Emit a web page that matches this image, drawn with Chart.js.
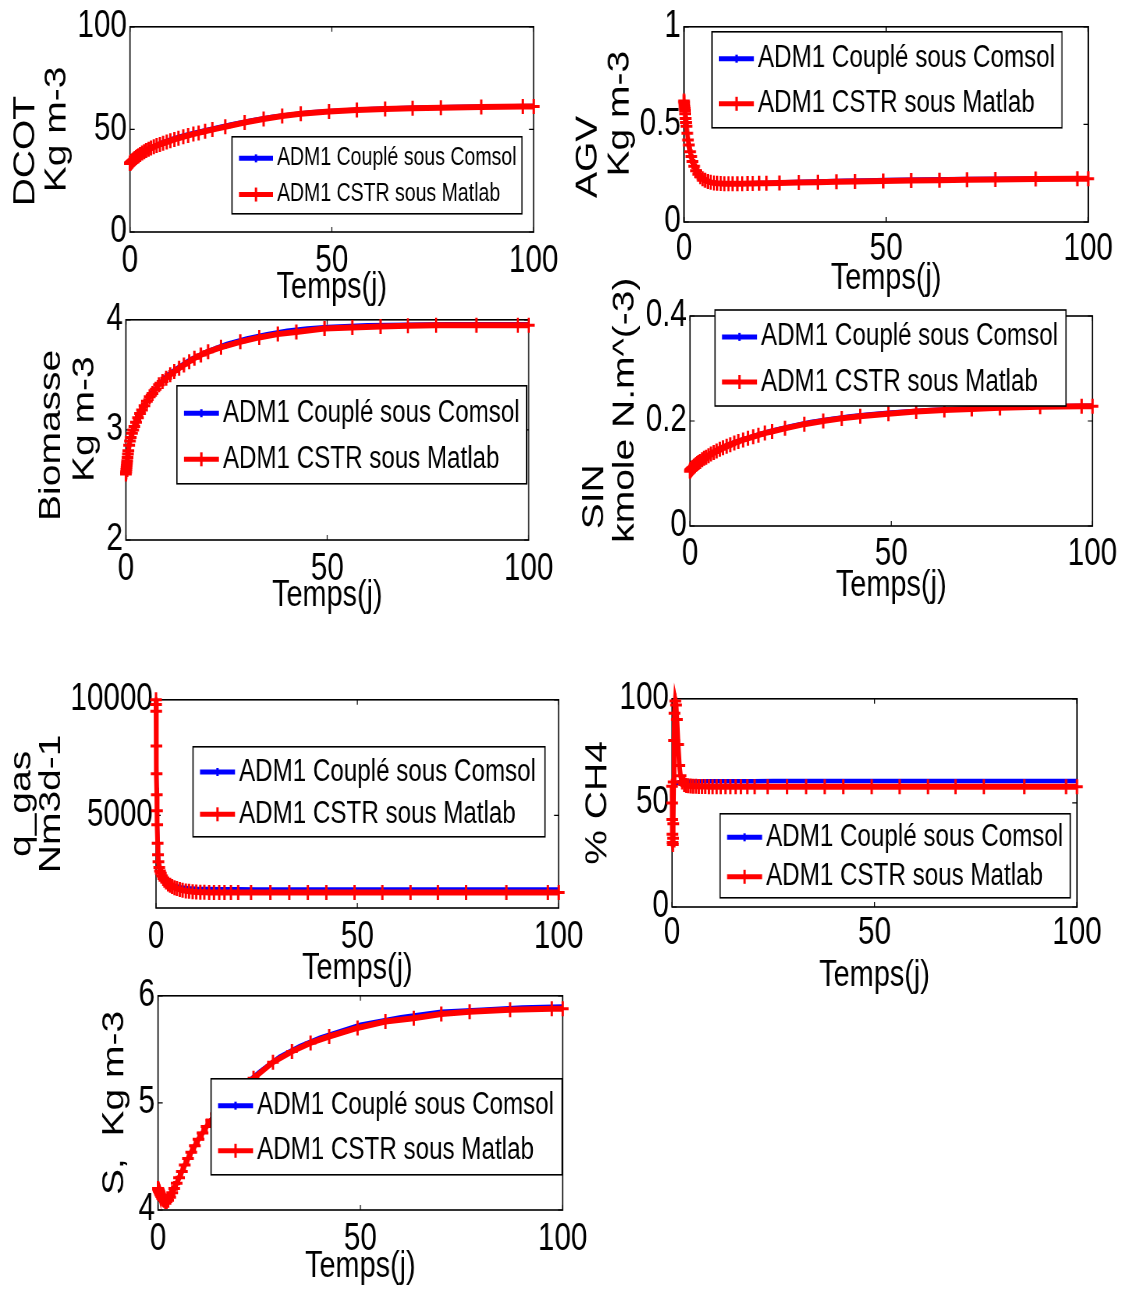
<!DOCTYPE html>
<html>
<head>
<meta charset="utf-8">
<script src="https://cdn.jsdelivr.net/npm/chart.js@4.4.1/dist/chart.umd.min.js"></script>
<style>
  body { margin: 0; background: #fff; width: 1125px; height: 1290px; position: relative; overflow: hidden; }
  canvas { position: absolute; }
</style>
</head>
<body>
<canvas id="c1"></canvas>
<canvas id="c2"></canvas>
<canvas id="c3"></canvas>
<canvas id="c4"></canvas>
<canvas id="c5"></canvas>
<canvas id="c6"></canvas>
<canvas id="c7"></canvas>
<script>
// solver time steps of the Matlab run (red) and of the Comsol run (blue), days
const tMatlab = [0, 0.02, 0.05, 0.1, 0.15, 0.2, 0.25, 0.3, 0.4, 0.5,
  0.6, 0.8, 1, 1.2, 1.5, 1.8, 2.1, 2.5, 3, 3.5,
  4, 4.6, 5.2, 5.9, 6.6, 7.4, 8.2, 9.1, 10, 11,
  12, 13.2, 14.4, 15.7, 17, 18.6, 20.4, 23.6, 28.4, 33.1,
  37.7, 42.3, 49.3, 56.2, 63.2, 70, 77, 87, 97.3, 100];
const tComsol = [0, 0.1, 0.2, 0.3, 0.5, 0.7, 1, 1.5, 2, 3, 4, 6, 8, 10, 13, 16, 20, 25, 30, 35, 40, 45, 50, 60, 70, 80, 90, 100];

const timeTicks = [0, 50, 100];

// DCOT, Kg m-3
const dcotMatlab = [33.4, 33.5, 33.6, 33.7, 33.8, 33.9, 34.0, 34.1, 34.3, 34.5,
  34.7, 35.1, 35.4, 35.8, 36.3, 36.8, 37.2, 37.8, 38.5, 39.1,
  39.7, 40.3, 40.9, 41.5, 42.1, 42.7, 43.3, 43.9, 44.5, 45.1,
  45.7, 46.4, 47.0, 47.7, 48.3, 49.1, 49.9, 51.3, 53.4, 55.1,
  56.5, 57.6, 58.7, 59.4, 59.9, 60.3, 60.6, 60.9, 61.1, 61.1];
const dcotComsol = [33.4, 33.6, 33.8, 34.0, 34.4, 34.8, 35.4, 36.3, 37.2, 38.6, 39.9, 42.0, 43.7, 45.1,
  46.9, 48.4, 50.2, 52.4, 54.4, 56.0, 57.3, 58.3, 59.0, 59.9, 60.5, 60.9, 61.2, 61.4];
const dcotTicks = [0, 50, 100];

// AGV, Kg m-3
const agvMatlab = [0.62, 0.615, 0.61, 0.6, 0.59, 0.58, 0.57, 0.555, 0.53, 0.51,
  0.49, 0.455, 0.42, 0.395, 0.36, 0.335, 0.31, 0.285, 0.262, 0.245,
  0.232, 0.222, 0.214, 0.208, 0.203, 0.2, 0.198, 0.197, 0.196, 0.196,
  0.196, 0.196, 0.196, 0.197, 0.197, 0.198, 0.199, 0.2, 0.202, 0.204,
  0.206, 0.208, 0.21, 0.212, 0.214, 0.216, 0.218, 0.22, 0.222, 0.222];
const agvComsol = [0.61, 0.6, 0.58, 0.56, 0.515, 0.475, 0.425, 0.365, 0.32, 0.265, 0.235, 0.208, 0.2, 0.198,
  0.198, 0.199, 0.2, 0.203, 0.206, 0.209, 0.211, 0.213, 0.215, 0.218, 0.22, 0.222, 0.223, 0.224];
const agvTicks = [0, 0.5, 1];

// Biomasse, Kg m-3
const bioMatlab = [2.6, 2.61, 2.62, 2.64, 2.66, 2.68, 2.7, 2.72, 2.75, 2.78,
  2.81, 2.86, 2.9, 2.93, 2.97, 3.0, 3.03, 3.07, 3.11, 3.15,
  3.18, 3.22, 3.26, 3.3, 3.33, 3.37, 3.41, 3.44, 3.47, 3.5,
  3.53, 3.56, 3.59, 3.62, 3.65, 3.68, 3.71, 3.75, 3.8, 3.84,
  3.87, 3.89, 3.92, 3.93, 3.94, 3.945, 3.95, 3.95, 3.95, 3.95];
const bioComsol = [2.6, 2.64, 2.68, 2.72, 2.78, 2.84, 2.91, 2.98, 3.03, 3.12, 3.2, 3.32, 3.41, 3.49,
  3.57, 3.64, 3.71, 3.78, 3.83, 3.87, 3.9, 3.92, 3.935, 3.95, 3.955, 3.96, 3.96, 3.96];
const bioTicks = [2, 3, 4];

// SIN, kmole N.m^(-3)
const sinMatlab = [0.105, 0.105, 0.106, 0.106, 0.107, 0.107, 0.108, 0.108, 0.109, 0.11,
  0.111, 0.112, 0.114, 0.115, 0.117, 0.119, 0.121, 0.123, 0.126, 0.129,
  0.131, 0.134, 0.137, 0.14, 0.143, 0.146, 0.149, 0.152, 0.155, 0.158,
  0.161, 0.164, 0.167, 0.17, 0.173, 0.177, 0.18, 0.186, 0.194, 0.2,
  0.205, 0.209, 0.214, 0.218, 0.221, 0.223, 0.225, 0.227, 0.228, 0.228];
const sinComsol = [0.105, 0.106, 0.107, 0.108, 0.11, 0.112, 0.115, 0.118, 0.121, 0.127, 0.133, 0.142, 0.15, 0.157,
  0.165, 0.172, 0.181, 0.19, 0.198, 0.204, 0.209, 0.213, 0.216, 0.221, 0.224, 0.226, 0.228, 0.229];
const sinTicks = [0, 0.2, 0.4];

// q_gas, Nm3 d-1
const qgasMatlab = [10000, 9800, 9500, 8000, 6800, 5900, 5200, 4600, 3800, 3300,
  3000, 2750, 2600, 2500, 2380, 2280, 2200, 2120, 2040, 1980,
  1930, 1880, 1840, 1800, 1770, 1740, 1720, 1700, 1690, 1685,
  1680, 1675, 1672, 1670, 1670, 1670, 1670, 1670, 1670, 1670,
  1670, 1670, 1670, 1670, 1670, 1670, 1670, 1670, 1670, 1670];
const qgasComsol = [9800, 8000, 6200, 5000, 3600, 3000, 2700, 2450, 2300, 2100, 2000, 1900, 1850, 1830,
  1820, 1815, 1810, 1805, 1800, 1800, 1800, 1800, 1800, 1800, 1800, 1800, 1800, 1800];
const qgasTicks = [5000, 10000];

// % CH4
const ch4Matlab = [58, 50, 42, 35, 31, 30, 33, 40, 60, 80,
  93, 99, 97, 90, 78, 68, 63, 60, 58.8, 58.4,
  58.2, 58.1, 58, 58, 57.9, 57.9, 57.9, 57.8, 57.8, 57.8,
  57.8, 57.8, 57.8, 57.8, 57.8, 57.8, 57.8, 57.8, 57.8, 57.8,
  57.8, 57.8, 57.8, 57.8, 57.8, 57.8, 57.8, 57.8, 57.8, 57.8];
const ch4Comsol = [55, 52, 53, 55, 57.5, 58.5, 59.3, 59.8, 60, 60.2, 60.3, 60.3, 60.4, 60.4,
  60.4, 60.4, 60.4, 60.5, 60.5, 60.5, 60.5, 60.5, 60.5, 60.5, 60.5, 60.5, 60.5, 60.5];
const ch4Ticks = [0, 50, 100];

// S, Kg m-3
const sMatlab = [4.2, 4.198, 4.195, 4.19, 4.185, 4.18, 4.175, 4.17, 4.16, 4.15,
  4.14, 4.125, 4.11, 4.1, 4.09, 4.08, 4.08, 4.09, 4.12, 4.16,
  4.2, 4.25, 4.3, 4.36, 4.42, 4.48, 4.54, 4.6, 4.66, 4.72,
  4.78, 4.84, 4.9, 4.96, 5.01, 5.07, 5.13, 5.23, 5.38, 5.48,
  5.56, 5.62, 5.7, 5.76, 5.79, 5.83, 5.85, 5.87, 5.88, 5.88];
const sComsol = [4.2, 4.19, 4.18, 4.17, 4.15, 4.13, 4.11, 4.09, 4.08, 4.12, 4.2, 4.37, 4.53, 4.67,
  4.84, 4.98, 5.13, 5.29, 5.43, 5.53, 5.61, 5.67, 5.73, 5.8, 5.85, 5.87, 5.89, 5.9];
const sTicks = [4, 5, 6];

const LABEL_COMSOL = "ADM1 Couplé sous Comsol";
const LABEL_MATLAB = "ADM1 CSTR sous Matlab";

const SANS = "'Liberation Sans', Arial, sans-serif";
// the figure is squeezed horizontally: canvases are drawn wider and shrunk by css
const SQ = 0.78;

function pts(xs, ys) {
  return xs.map((x, i) => ({ x, y: ys[i] }));
}

// matlab style axes box with inward ticks on all four sides
const frame = {
  id: "frame",
  beforeDatasetsDraw(chart) {
    const { ctx, chartArea: a, scales } = chart;
    ctx.save();
    ctx.strokeStyle = "#000";
    ctx.lineWidth = 1.6;
    ctx.strokeRect(a.left, a.top, a.right - a.left, a.bottom - a.top);
    ctx.lineWidth = 1.2;
    ctx.beginPath();
    scales.x.ticks.forEach(t => {
      const px = scales.x.getPixelForValue(t.value);
      ctx.moveTo(px, a.bottom); ctx.lineTo(px, a.bottom - 5);
      ctx.moveTo(px, a.top); ctx.lineTo(px, a.top + 5);
    });
    scales.y.ticks.forEach(t => {
      const py = scales.y.getPixelForValue(t.value);
      ctx.moveTo(a.left, py); ctx.lineTo(a.left + 6, py);
      ctx.moveTo(a.right, py); ctx.lineTo(a.right - 6, py);
    });
    ctx.stroke();
    ctx.restore();
  }
};

// boxed legend drawn inside the axes (offsets given in page px)
const boxLegend = {
  id: "boxLegend",
  afterDraw(chart, args, o) {
    const { ctx, chartArea: a } = chart;
    const x = a.left + o.x / SQ, y = a.top + o.y, w = o.w / SQ;
    ctx.save();
    ctx.fillStyle = "#fff";
    ctx.fillRect(x, y, w, o.h);
    ctx.strokeStyle = "#000";
    ctx.lineWidth = 1.6;
    ctx.strokeRect(x, y, w, o.h);
    ctx.font = o.size + "px " + SANS;
    ctx.textBaseline = "middle";
    const rows = [0.28, 0.75];
    chart.data.datasets.forEach((ds, i) => {
      const ry = y + o.h * rows[i];
      const x0 = x + 7 / SQ, x1 = x + o.sample / SQ;
      ctx.strokeStyle = ds.borderColor;
      ctx.lineWidth = 5;
      ctx.beginPath();
      ctx.moveTo(x0, ry); ctx.lineTo(x1, ry);
      ctx.stroke();
      const mx = (x0 + x1) / 2;
      if (ds.pointStyle === "cross") {
        ctx.lineWidth = 3;
        ctx.beginPath();
        ctx.moveTo(mx, ry - 7); ctx.lineTo(mx, ry + 7);
        ctx.stroke();
      } else {
        ctx.fillStyle = ds.borderColor;
        ctx.fillRect(mx - 1.5, ry - 4, 3, 8);
      }
      ctx.fillStyle = "#000";
      ctx.fillText(ds.label, x1 + 4 / SQ, ry);
    });
    ctx.restore();
  }
};

function makeChart(p) {
  const cv = document.getElementById(p.id);
  cv.style.left = p.cx + "px";
  cv.style.top = p.cy + "px";
  cv.style.width = p.cw + "px";
  cv.style.height = p.ch + "px";
  cv.width = Math.round(p.cw / SQ);
  cv.height = p.ch;
  const ylhI = p.ylh / SQ;
  const ytpadI = (p.y1 - p.cx) / SQ - ylhI / 2;
  return new Chart(cv, {
    type: "line",
    data: {
      datasets: [
        {
          label: LABEL_COMSOL,
          data: pts(tComsol, p.blue),
          borderColor: "#0000ff",
          borderWidth: 4.5,
          pointRadius: 0,
          order: 1,
          clip: false
        },
        {
          label: LABEL_MATLAB,
          data: pts(tMatlab, p.red),
          borderColor: "#ff0000",
          borderWidth: 6,
          pointStyle: "cross",
          pointRadius: 7.5,
          pointBorderWidth: 3,
          pointBorderColor: "#ff0000",
          order: 0,
          clip: false
        }
      ]
    },
    options: {
      responsive: false,
      animation: false,
      events: [],
      layout: { padding: { left: 0, top: p.pt, right: p.pr / SQ, bottom: 0 } },
      plugins: {
        legend: { display: false },
        tooltip: { enabled: false },
        boxLegend: p.legend
      },
      scales: {
        x: {
          type: "linear",
          min: 0,
          max: 100,
          grid: { display: false, drawTicks: false },
          border: { display: false },
          afterBuildTicks: s => { s.ticks = timeTicks.map(v => ({ value: v })); },
          afterFit: s => { s.height = p.xh; },
          ticks: {
            padding: p.xpad, maxRotation: 0, autoSkip: false, color: "#000",
            font: { family: SANS, size: 38, lineHeight: 1 },
            callback: v => String(v)
          },
          title: {
            display: true, text: "Temps(j)", color: "#000",
            font: { family: SANS, size: 37, lineHeight: 1 },
            padding: { top: 0, bottom: p.tpad }
          }
        },
        y: {
          type: "linear",
          min: p.ymin,
          max: p.ymax,
          grid: { display: false, drawTicks: false },
          border: { display: false },
          afterBuildTicks: s => { s.ticks = p.yticks.map(v => ({ value: v })); },
          afterFit: s => { s.width = p.yw / SQ; },
          ticks: {
            padding: 4, autoSkip: false, color: "#000",
            font: { family: SANS, size: 38 },
            callback: v => String(v)
          },
          title: {
            display: true, text: p.ytitle, color: "#000",
            font: { family: SANS, size: 39, lineHeight: ylhI / 39 },
            padding: { top: ytpadI, bottom: 0 }
          }
        }
      }
    },
    plugins: [frame, boxLegend]
  });
}

const panels = [
  { id: "c1", cx: 0, cy: 0, cw: 567, ch: 312, yw: 130, pt: 25, pr: 30, xh: 80, xpad: 11, tpad: 6,
    ymin: 0, ymax: 100, yticks: dcotTicks, ytitle: ["DCOT    ", "Kg m-3"], y1: 26, ylh: 31,
    red: dcotMatlab, blue: dcotComsol, legend: { x: 102, y: 110, w: 290, h: 77, size: 25, sample: 41 } },
  { id: "c2", cx: 560, cy: 0, cw: 560, ch: 307, yw: 124, pt: 25, pr: 30, xh: 85, xpad: 9, tpad: 10,
    ymin: 0, ymax: 1, yticks: agvTicks, ytitle: ["AGV      ", "  Kg m-3"], y1: 588, ylh: 32,
    red: agvMatlab, blue: agvComsol, legend: { x: 28, y: 5, w: 350, h: 96, size: 31, sample: 42 } },
  { id: "c3", cx: 0, cy: 293, cw: 562, ch: 332, yw: 126, pt: 25, pr: 30, xh: 85, xpad: 11, tpad: 11,
    ymin: 2, ymax: 4, yticks: bioTicks, ytitle: ["Biomasse ", "  Kg m-3"], y1: 52, ylh: 33,
    red: bioMatlab, blue: bioComsol, legend: { x: 51, y: 66, w: 350, h: 98, size: 31, sample: 42 } },
  { id: "c4", cx: 565, cy: 250, cw: 560, ch: 361, yw: 125, pt: 66, pr: 28, xh: 85, xpad: 10, tpad: 7,
    ymin: 0, ymax: 0.4, yticks: sinTicks, ytitle: ["SIN              ", "  kmole N.m^(-3)"], y1: 595, ylh: 30,
    red: sinMatlab, blue: sinComsol, legend: { x: 25, y: -6, w: 351, h: 96, size: 31, sample: 42 } },
  { id: "c5", cx: 0, cy: 673, cw: 592, ch: 315, yw: 156, pt: 25, pr: 30, xh: 80, xpad: 11, tpad: 1,
    ymin: 1000, ymax: 10000, yticks: qgasTicks, ytitle: ["q_gas", "Nm3d-1"], y1: 22, ylh: 30,
    red: qgasMatlab, blue: qgasComsol, legend: { x: 37, y: 47, w: 352, h: 90, size: 31, sample: 42 } },
  { id: "c6", cx: 565, cy: 672, cw: 547, ch: 325, yw: 107, pt: 25, pr: 35, xh: 90, xpad: 8, tpad: 3,
    ymin: 0, ymax: 100, yticks: ch4Ticks, ytitle: "% CH4", y1: 598, ylh: 32,
    red: ch4Matlab, blue: ch4Comsol, legend: { x: 48, y: 115, w: 350, h: 84, size: 31, sample: 42 } },
  { id: "c7", cx: 0, cy: 969, cw: 596, ch: 321, yw: 158, pt: 25, pr: 30, xh: 80, xpad: 11, tpad: 5,
    ymin: 4, ymax: 6, yticks: sTicks, ytitle: "S,  Kg m-3", y1: 115, ylh: 32,
    red: sMatlab, blue: sComsol, legend: { x: 53, y: 83, w: 351, h: 96, size: 31, sample: 42 } }
];

panels.forEach(makeChart);
</script>
</body>
</html>
